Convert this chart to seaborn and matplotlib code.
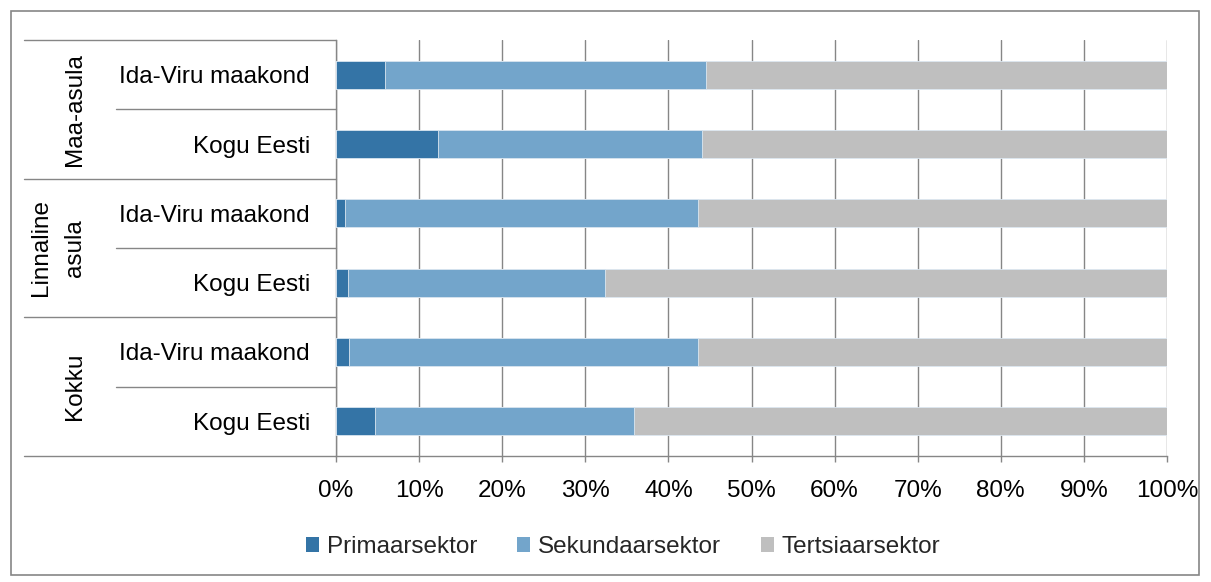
import matplotlib
matplotlib.use("Agg")
import matplotlib.pyplot as plt
import matplotlib.transforms as mtransforms
from matplotlib.patches import Rectangle, Patch
from matplotlib.lines import Line2D
import seaborn as sns
import pandas as pd

# ---- data ----
groups = ["Maa-asula", "Linnaline\nasula", "Kokku"]
row_labels = ["Ida-Viru maakond", "Kogu Eesti",
              "Ida-Viru maakond", "Kogu Eesti",
              "Ida-Viru maakond", "Kogu Eesti"]
primaar = [5.9, 12.3, 1.1, 1.4, 1.6, 4.7]
sekundaar = [38.6, 31.7, 42.5, 31.0, 42.0, 31.2]
tertsiaar = [55.5, 56.0, 56.4, 67.6, 56.4, 64.1]
series = ["Primaarsektor", "Sekundaarsektor", "Tertsiaarsektor"]
colors = ["#3474A6", "#73A5CB", "#BFBFBF"]
x_ticks = list(range(0, 101, 10))
x_ticklabels = [f"{v}%" for v in x_ticks]

sns.set_theme(style="white")
plt.rcParams["font.family"] = ["Liberation Sans", "DejaVu Sans"]
FS = 17.5
GRAY = "#868686"

W, H = 1211, 582
fig = plt.figure(figsize=(W / 100, H / 100), dpi=100)
ax = fig.add_axes([336 / W, 1 - 456 / H, 831 / W, 416 / H])

rows = [f"r{i}" for i in range(len(row_labels))]
df = pd.DataFrame({
    "row": rows,
    "p": primaar,
    "s": sekundaar,
    "t": tertsiaar,
})
df["c1"] = df["p"]
df["c2"] = df["p"] + df["s"]
df["c3"] = df["p"] + df["s"] + df["t"]

for col, color in zip(["c3", "c2", "c1"], colors[::-1]):
    sns.barplot(data=df, x=col, y="row", orient="h", color=color,
                width=0.4, ax=ax, edgecolor="#DCE7F1", linewidth=0.6,
                saturation=1, zorder=3)

ax.set_xlim(0, 100)
ax.set_ylim(5.5, -0.5)
ax.set_xlabel("")
ax.set_ylabel("")
ax.set_xticks(x_ticks)
ax.set_xticklabels(x_ticklabels, fontsize=FS, color="black")
ax.set_yticks(range(len(row_labels)))
ax.set_yticklabels(row_labels, fontsize=FS, color="black")
ax.tick_params(axis="y", length=0, pad=18.7)
ax.tick_params(axis="x", length=4.5, width=1, color=GRAY, direction="out",
               pad=13, bottom=True)
ax.xaxis.grid(True, color=GRAY, linewidth=1)
ax.yaxis.grid(False)
ax.set_axisbelow(True)
for s in ["top", "right"]:
    ax.spines[s].set_visible(False)
for s in ["left", "bottom"]:
    ax.spines[s].set_color(GRAY)
    ax.spines[s].set_linewidth(1)

# group separators in the label area
trans = mtransforms.blended_transform_factory(ax.transAxes, ax.transData)
x_long = (24 - 336) / 831
x_short = (116 - 336) / 831
bounds = [-0.5, 0.5, 1.5, 2.5, 3.5, 4.5, 5.5]
for i, b in enumerate(bounds):
    x0 = x_long if i % 2 == 0 else x_short
    ax.add_line(Line2D([x0, 0], [b, b], transform=trans, color=GRAY,
                       linewidth=1, clip_on=False))

# group labels
x_grp = [(75 - 336) / 831, (58 - 336) / 831, (75 - 336) / 831]
for k, g in enumerate(groups):
    ax.text(x_grp[k], 2 * k + 0.5, g, transform=trans, rotation=90,
            ha="center", va="center", multialignment="center",
            fontsize=FS, color="black", linespacing=1.75)

# legend
handles = [Patch(facecolor=c, edgecolor="none") for c in colors]
fig.legend(handles, series, loc="center", bbox_to_anchor=(623 / W, 1 - 547 / H),
           ncol=3, frameon=False, fontsize=FS, handlelength=0.55,
           handleheight=0.55, handletextpad=0.3, columnspacing=1.65)

# outer border
fig.patches.append(Rectangle((11 / W, 1 - 575 / H), (1199 - 11) / W, (575 - 11) / H,
                             transform=fig.transFigure, fill=False,
                             edgecolor=GRAY, linewidth=1.2))

fig.savefig("out.png", dpi=100)
